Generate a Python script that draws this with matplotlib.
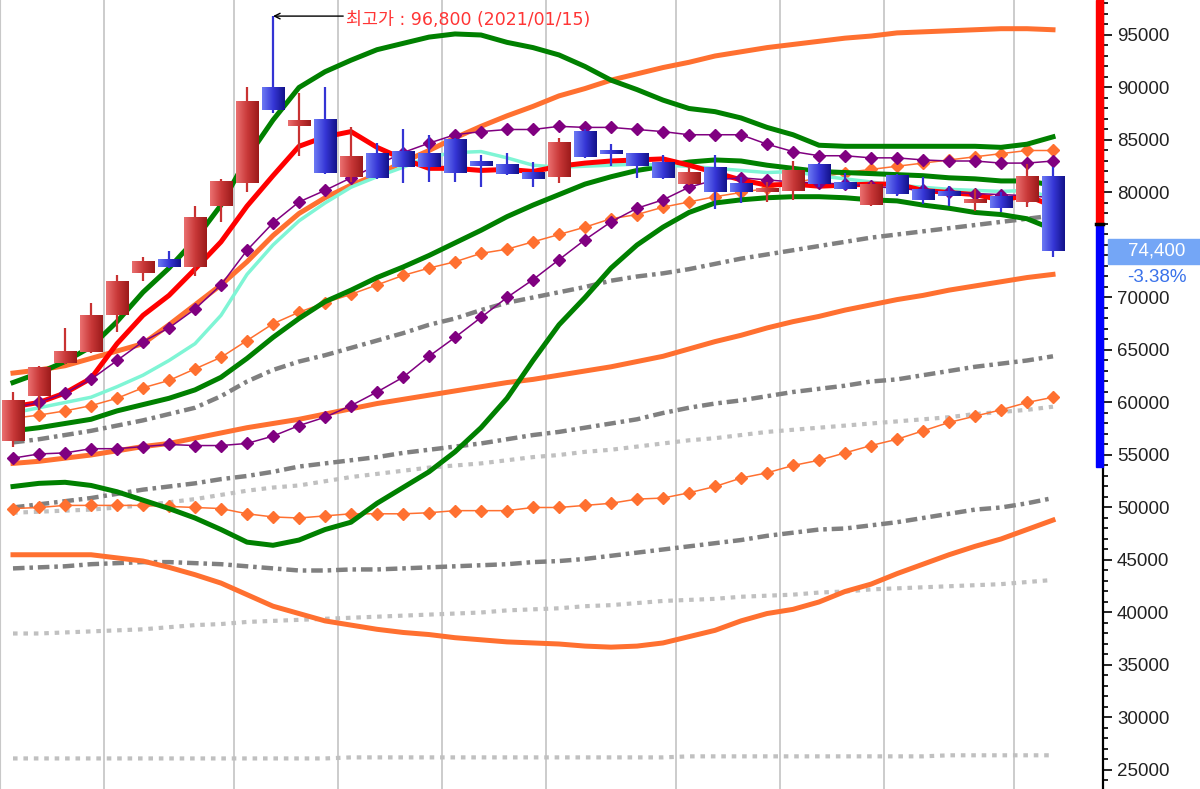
import numpy as np
import matplotlib
matplotlib.use('Agg')
import matplotlib.pyplot as plt
from matplotlib.patches import Rectangle
from matplotlib.colors import LinearSegmentedColormap
from matplotlib.ticker import MultipleLocator, FuncFormatter

plt.rcParams['font.family'] = ['Liberation Sans', 'DejaVu Sans']

# weekly candles (41 weeks)
opens = [56300, 60600, 63800, 64800, 68300, 72300, 73600, 72900, 78700, 80900,
         90000, 86300, 87000, 81500, 83700, 83900, 83700, 85100, 82900, 82700,
         81900, 81500, 85800, 84000, 83700, 82900, 80800, 82300, 80800, 80000,
         80100, 82700, 80900, 78800, 81700, 80300, 80100, 79000, 79600, 79100, 81500]
highs = [61000, 63500, 67100, 69500, 72100, 73900, 74400, 78700, 81300, 90000,
         96800, 89500, 90000, 86200, 84700, 86000, 85500, 85200, 83600, 83800,
         82900, 85200, 86000, 84600, 83800, 83600, 82400, 83600, 81500, 81000,
         83000, 82800, 81900, 81000, 81800, 81500, 80600, 80300, 80000, 82700, 82400]
lows = [55800, 59300, 63700, 64700, 66700, 71600, 72800, 72000, 77200, 80000,
        87600, 83500, 81800, 81000, 81300, 80900, 81000, 81000, 80500, 81700,
        80500, 80900, 83300, 82500, 81400, 81300, 80700, 78400, 79000, 79100,
        79300, 80500, 80200, 78700, 79700, 78900, 78700, 78200, 78100, 78600, 73900]
closes = [60200, 63300, 64900, 68300, 71500, 73400, 72900, 77600, 81000, 88700,
          87900, 86800, 81900, 83500, 81400, 82400, 82400, 81900, 82500, 81800,
          81300, 84800, 83400, 83700, 82500, 81400, 81900, 80000, 80000, 80200,
          82100, 80800, 80300, 80800, 79900, 79300, 79700, 79300, 78500, 81500, 74400]

prev_close = 77000
limit_down = 53900
peak_date = '2021/01/15'

# moving averages / bands
ma_red = [59600, 60000, 60900, 62300, 65600, 68300, 70200, 72700, 75300, 78700,
          81600, 84400, 85300, 85800, 84300, 83200, 82300, 82300, 82100, 82200,
          82000, 82500, 82800, 83000, 83100, 83200, 82600, 81900, 81200, 80700,
          80800, 80600, 80700, 80800, 80800, 80200, 80000, 79800, 79300, 79700, 78700]
ma_cyan = [59000, 59500, 60000, 60500, 61500, 62600, 64000, 65600, 68300, 72200,
           75000, 77300, 79000, 80500, 81500, 82400, 83400, 83800, 83900, 83300,
           82600, 82400, 82500, 82600, 82700, 82600, 82500, 82300, 82100, 81900,
           82000, 81600, 81300, 81000, 80700, 80500, 80300, 80200, 80100, 80200, 79500]
bb_mid = [57300, 57600, 58000, 58400, 59200, 59800, 60400, 61200, 62400, 64200,
          66200, 68000, 69600, 70700, 71900, 72900, 74000, 75200, 76400, 77700,
          78800, 79800, 80800, 81500, 82100, 82500, 82900, 83100, 83000, 82600,
          82300, 82000, 81900, 81800, 81700, 81600, 81400, 81300, 81100, 81100, 80700]
bb_up = [61900, 62800, 63900, 65300, 67700, 70500, 72800, 75500, 78800, 83300,
         86900, 90000, 91500, 92600, 93600, 94200, 94800, 95100, 95000, 94300,
         93800, 93100, 92000, 90700, 89800, 88800, 88000, 87700, 87100, 86200,
         85500, 84500, 84400, 84400, 84400, 84400, 84400, 84400, 84300, 84600, 85300]
bb_dn = [52000, 52300, 52400, 52100, 51500, 50700, 49900, 49000, 47900, 46700,
         46400, 46900, 47900, 48600, 50400, 51900, 53400, 55300, 57600, 60400,
         64000, 67400, 70000, 72800, 75000, 76700, 78100, 79000, 79300, 79500,
         79600, 79600, 79500, 79300, 79200, 78800, 78500, 78100, 77900, 77500, 76500]
env_up = [62800, 63100, 63500, 64200, 64900, 65600, 67400, 69300, 71200, 73400,
          75900, 78000, 79500, 80700, 81700, 82900, 84000, 85200, 86300, 87300,
          88200, 89200, 89900, 90700, 91300, 91900, 92400, 93000, 93400, 93800,
          94100, 94400, 94700, 94900, 95200, 95300, 95400, 95500, 95600, 95600, 95500]
env_mid = [54200, 54400, 54700, 55000, 55400, 55800, 56100, 56600, 57100, 57600,
           58000, 58400, 58900, 59400, 59900, 60300, 60700, 61100, 61500, 61900,
           62200, 62600, 63000, 63400, 63900, 64400, 65100, 65800, 66400, 67100,
           67700, 68200, 68800, 69300, 69800, 70200, 70700, 71100, 71500, 71900, 72200]
env_dn = [45500, 45500, 45500, 45500, 45200, 44900, 44300, 43600, 42800, 41700,
          40600, 39900, 39200, 38800, 38400, 38100, 37900, 37600, 37400, 37200,
          37100, 37000, 36800, 36700, 36800, 37100, 37700, 38300, 39200, 39900,
          40300, 41000, 42000, 42700, 43700, 44600, 45500, 46300, 47000, 47900, 48800]
purple_up = [59500, 60000, 60900, 62200, 64000, 65800, 67100, 68900, 71200, 74500,
             77100, 79100, 80200, 81400, 82600, 83800, 84700, 85500, 85800, 86000,
             86000, 86300, 86200, 86200, 86000, 85800, 85500, 85500, 85500, 84600,
             83900, 83500, 83500, 83300, 83300, 83100, 83000, 83000, 82800, 82800, 83000]
purple_dn = [54700, 55100, 55200, 55600, 55600, 55800, 56000, 55900, 55900, 56100,
             56800, 57800, 58600, 59700, 61000, 62400, 64400, 66200, 68100, 70000,
             71700, 73600, 75500, 77200, 78500, 79300, 80500, 81200, 81400, 81200,
             81000, 80900, 80800, 80600, 80400, 80200, 80000, 79900, 79800, 79700, 79500]
orange_up = [58500, 58800, 59200, 59700, 60400, 61400, 62100, 63200, 64300, 65900,
             67500, 68600, 69500, 70300, 71200, 72100, 72800, 73400, 74200, 74600,
             75300, 76000, 76700, 77500, 77900, 78600, 79100, 79600, 80000, 80400,
             80900, 81400, 81900, 82200, 82500, 82800, 83100, 83400, 83700, 84000, 84000]
orange_dn = [49900, 50000, 50200, 50200, 50200, 50200, 50100, 50000, 49900, 49400,
             49100, 49000, 49200, 49400, 49400, 49400, 49500, 49700, 49700, 49700,
             50000, 50000, 50200, 50400, 50800, 50900, 51400, 52000, 52800, 53300,
             54000, 54500, 55200, 55900, 56500, 57300, 58100, 58700, 59300, 60000, 60500]
gray_dd1 = [56200, 56500, 56900, 57300, 57800, 58300, 58900, 59500, 60600, 62000,
            63100, 63900, 64500, 65200, 65900, 66600, 67400, 68000, 68800, 69500,
            70000, 70500, 71000, 71600, 72000, 72300, 72700, 73200, 73700, 74100,
            74500, 74900, 75300, 75700, 76000, 76300, 76600, 76900, 77200, 77500, 77800]
gray_dd2 = [50000, 50300, 50600, 50900, 51300, 51700, 52000, 52300, 52700, 53000,
            53400, 53900, 54200, 54500, 54800, 55200, 55500, 55800, 56100, 56500,
            56900, 57200, 57600, 58000, 58400, 59000, 59500, 59900, 60200, 60600,
            61000, 61300, 61600, 62000, 62200, 62600, 63000, 63400, 63700, 64000, 64400]
gray_dd3 = [44200, 44300, 44400, 44600, 44700, 44800, 44800, 44700, 44600, 44400,
            44200, 44000, 44000, 44100, 44100, 44200, 44300, 44400, 44500, 44600,
            44800, 44900, 45100, 45400, 45700, 46000, 46300, 46600, 46900, 47300,
            47600, 47900, 48000, 48300, 48600, 49000, 49400, 49800, 50000, 50400, 50900]
gray_dt1 = [49500, 49600, 49700, 49800, 50000, 50200, 50500, 50800, 51200, 51600,
            51900, 52100, 52500, 52900, 53200, 53500, 53800, 54000, 54200, 54500,
            54800, 55000, 55300, 55500, 55800, 56100, 56400, 56600, 56900, 57200,
            57400, 57600, 57800, 58000, 58200, 58400, 58600, 58900, 59100, 59300, 59600]
gray_dt2 = [38000, 38000, 38100, 38200, 38300, 38400, 38600, 38800, 38900, 39100,
            39200, 39300, 39400, 39500, 39600, 39700, 39800, 39900, 40000, 40200,
            40300, 40400, 40600, 40700, 40900, 41100, 41200, 41300, 41500, 41600,
            41700, 41900, 42000, 42200, 42300, 42400, 42500, 42600, 42700, 42900, 43100]
gray_dt3 = [26100, 26100, 26100, 26100, 26100, 26100, 26100, 26100, 26100, 26100,
            26100, 26100, 26100, 26200, 26200, 26200, 26200, 26200, 26200, 26200,
            26200, 26200, 26200, 26200, 26200, 26200, 26300, 26300, 26300, 26300,
            26300, 26300, 26300, 26300, 26300, 26300, 26400, 26400, 26400, 26400, 26400]

month_breaks = [3.5, 8.5, 12.5, 16.5, 20.5, 25.5, 29.5, 33.5, 38.5]

n = len(closes)
x = np.arange(n)

fig = plt.figure(figsize=(12, 7.89), dpi=100)
ax = fig.add_axes([0, 0, 1103 / 1200, 1])

for b in month_breaks:
    ax.axvline(b, color='#c8c8c8', lw=1.3, zorder=0.5)

dotted = (0, (1.1, 1.4))
for s in [gray_dt1, gray_dt2, gray_dt3]:
    ax.plot(x, s, color='#c0c0c0', lw=3.0, ls=dotted, dash_capstyle='butt', zorder=1)

dashdot = (0, (2.6, 1.1, 0.8, 1.1))
for s in [gray_dd1, gray_dd2, gray_dd3]:
    ax.plot(x, s, color='#808080', lw=3.2, ls=dashdot, dash_capstyle='butt', zorder=1.2)

for s in [env_up, env_mid, env_dn]:
    ax.plot(x, s, color='#ff7030', lw=3.6, zorder=2)

for s in [orange_up, orange_dn]:
    ax.plot(x, s, color='#ff7030', lw=1.1, marker='D', ms=6.5, mec='#ff7030', zorder=2.5)

for s in [bb_up, bb_mid, bb_dn]:
    ax.plot(x, s, color='#008000', lw=3.6, zorder=3)

ax.plot(x, ma_cyan, color='#7ff5d5', lw=2.5, zorder=3.2)
ax.plot(x, ma_red, color='#ff0000', lw=3.6, zorder=4)

for s in [purple_up, purple_dn]:
    ax.plot(x, s, color='#800080', lw=1.1, marker='D', ms=6.5, mec='#800080', zorder=4.5)

# candles with horizontal gradient bodies
up_cmap = LinearSegmentedColormap.from_list('up', ['#ea7070', '#c83838', '#9c1a1a'])
dn_cmap = LinearSegmentedColormap.from_list('dn', ['#6c7af4', '#3636d6', '#12128a'])
grad = np.linspace(0, 1, 64).reshape(1, -1)
half = 0.44
for i in range(n):
    up = closes[i] >= opens[i]
    ax.plot([i, i], [lows[i], highs[i]], color='#c83232' if up else '#3434d4',
            lw=1.6, solid_capstyle='butt', zorder=6)
    lo, hi = sorted([opens[i], closes[i]])
    if hi - lo < 300:
        hi = lo + 300
    ax.imshow(grad, cmap=up_cmap if up else dn_cmap, extent=[i - half, i + half, lo, hi],
              aspect='auto', interpolation='bilinear', zorder=7)

# highest price annotation
top = int(np.argmax(highs))
ax.annotate('', xy=(top, highs[top]), xytext=(12.7, highs[top]),
            arrowprops=dict(arrowstyle='->', color='black', lw=1.0, shrinkA=0, shrinkB=0),
            zorder=8)
ax.text(12.8, highs[top] - 350, f'최고가 : {highs[top]:,} ({peak_date})', color='#ff3535',
        fontsize=12.5, ha='left', va='center', family=['DejaVu Sans', 'Noto Sans CJK KR'],
        zorder=8)

ymin, ymax = 23190, 98333
ax.set_xlim(-0.5, (1103 - 13) / 26)
ax.set_ylim(ymin, ymax)

last = closes[-1]

# right price axis (the label under the last-price box is not drawn)
ax.yaxis.tick_right()
ax.set_yticks(range(25000, 100000, 5000))
ax.yaxis.set_minor_locator(MultipleLocator(1000))
ax.yaxis.set_major_formatter(FuncFormatter(lambda v, p: '' if abs(v - last) < 1500 else f'{int(v)}'))
ax.tick_params(axis='y', which='major', length=6.5, width=1.2, pad=3.5, labelsize=13.5,
               labelcolor='#222222')
ax.tick_params(axis='y', which='minor', length=3.6, width=1.2)
ax.set_xticks([])
ax.spines['top'].set_visible(False)
ax.spines['bottom'].set_visible(False)
ax.spines['left'].set_color('#c8c8c8')
ax.spines['right'].set_linewidth(1.6)

# price-limit bar along the axis
trans = ax.get_yaxis_transform()
bw = 7 / 1103
ax.add_patch(Rectangle((1 - bw, prev_close), bw, ymax - prev_close, transform=trans,
                       color='#ff0000', clip_on=False, zorder=9))
ax.add_patch(Rectangle((1 - bw, limit_down), bw, prev_close - limit_down, transform=trans,
                       color='#0000ff', clip_on=False, zorder=9))
ax.plot([1 - bw, 1], [prev_close, prev_close], transform=trans, color='black', lw=2.5,
        clip_on=False, zorder=10)

# last price box
chg = (last - prev_close) / prev_close * 100
ax.add_patch(Rectangle((1108 / 1103, last - 1200), 92 / 1103, 2400, transform=trans,
                       color='#74a6f6', clip_on=False, zorder=9))
ax.text(1157 / 1103, last, f'{last:,}', transform=trans, ha='center', va='center',
        color='white', fontsize=13.5, zorder=10)
ax.text(1157 / 1103, last - 2450, f'{chg:.2f}%', transform=trans, ha='center', va='center',
        color='#3a72ea', fontsize=13.5, zorder=10)

fig.savefig('out.png', dpi=100)
